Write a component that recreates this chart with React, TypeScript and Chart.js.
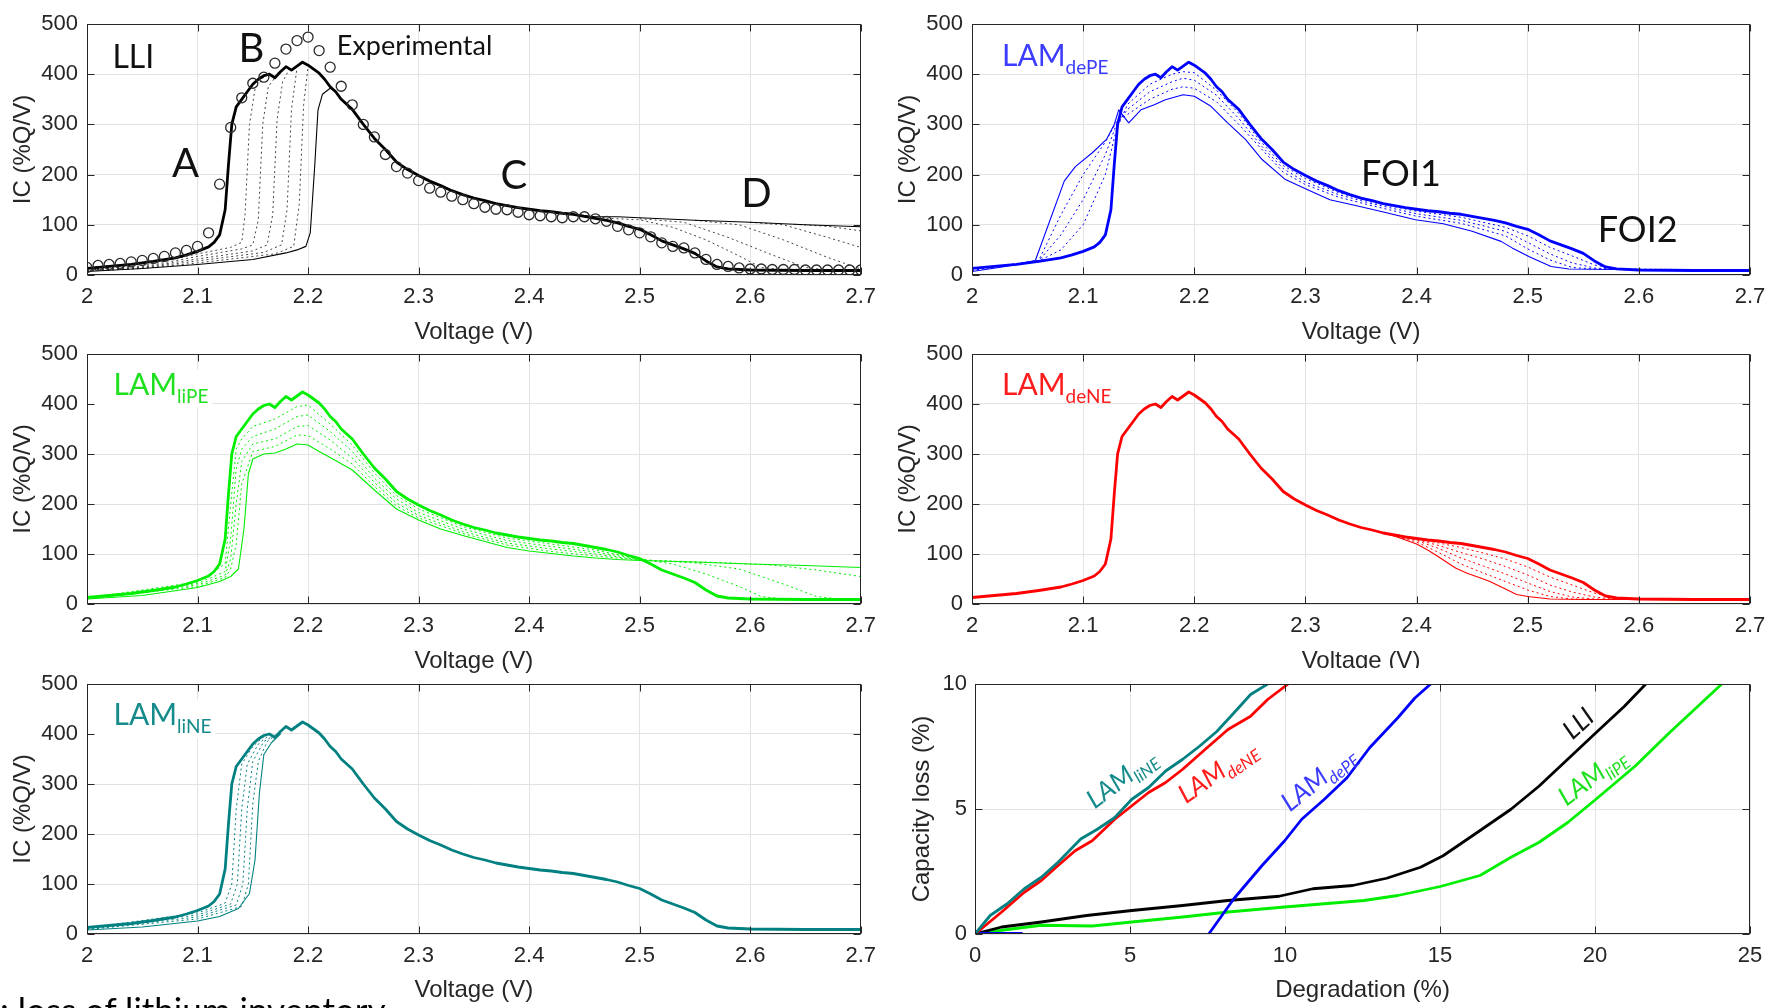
import React, { useEffect, useRef } from 'react';
import { Chart, registerables } from 'chart.js';

Chart.register(...registerables);

// ---------------- tick values & labels ----------------
const voltTicks = [2, 2.1, 2.2, 2.3, 2.4, 2.5, 2.6, 2.7];
const voltTickLabels = ['2', '2.1', '2.2', '2.3', '2.4', '2.5', '2.6', '2.7'];
const icTicks = [0, 100, 200, 300, 400, 500];
const icTickLabels = ['0', '100', '200', '300', '400', '500'];
const degTicks = [0, 5, 10, 15, 20, 25];
const degTickLabels = ['0', '5', '10', '15', '20', '25'];
const lossTicks = [0, 5, 10];
const lossTickLabels = ['0', '5', '10'];

// ---------------- pristine (reference) IC curve ----------------
const mainV = [2.00, 2.02, 2.04, 2.06, 2.08, 2.09, 2.10, 2.11, 2.115, 2.12, 2.125, 2.128, 2.131, 2.135, 2.14, 2.145, 2.15, 2.155, 2.16, 2.165, 2.17, 2.175, 2.18, 2.185, 2.19, 2.195, 2.20, 2.205, 2.21, 2.215, 2.22, 2.225, 2.23, 2.24, 2.25, 2.26, 2.27, 2.28, 2.29, 2.30, 2.31, 2.32, 2.33, 2.34, 2.35, 2.36, 2.37, 2.38, 2.39, 2.40, 2.41, 2.42, 2.43, 2.44, 2.45, 2.46, 2.47, 2.48, 2.49, 2.50, 2.51, 2.52, 2.53, 2.54, 2.55, 2.56, 2.57, 2.58, 2.60, 2.65, 2.70];
const mainIC = [13, 17, 21, 27, 34, 40, 47, 56, 65, 80, 130, 220, 300, 335, 350, 365, 380, 390, 397, 400, 393, 405, 415, 408, 416, 424, 418, 410, 402, 390, 375, 365, 350, 330, 300, 272, 250, 225, 210, 198, 187, 178, 168, 160, 153, 148, 142, 138, 134, 131, 128, 126, 123, 121, 117, 113, 109, 104, 97, 91, 80, 68, 60, 52, 43, 28, 16, 12, 10, 9, 9];

// ---------------- LLI panel ----------------
const expV = [2.00, 2.01, 2.02, 2.03, 2.04, 2.05, 2.06, 2.07, 2.08, 2.09, 2.10, 2.11, 2.12, 2.13, 2.14, 2.15, 2.16, 2.17, 2.18, 2.19, 2.20, 2.21, 2.22, 2.23, 2.24, 2.25, 2.26, 2.27, 2.28, 2.29, 2.30, 2.31, 2.32, 2.33, 2.34, 2.35, 2.36, 2.37, 2.38, 2.39, 2.40, 2.41, 2.42, 2.43, 2.44, 2.45, 2.46, 2.47, 2.48, 2.49, 2.50, 2.51, 2.52, 2.53, 2.54, 2.55, 2.56, 2.57, 2.58, 2.59, 2.60, 2.61, 2.62, 2.63, 2.64, 2.65, 2.66, 2.67, 2.68, 2.69, 2.70];
const expIC = [15, 19, 21, 23, 26, 29, 33, 37, 44, 49, 57, 84, 181, 294, 353, 382, 394, 422, 450, 467, 474, 447, 414, 376, 339, 300, 275, 240, 216, 203, 188, 173, 165, 157, 150, 142, 135, 131, 130, 125, 120, 118, 116, 114, 116, 116, 112, 107, 97, 90, 84, 76, 64, 57, 54, 44, 31, 21, 17, 14, 12, 12, 11, 11, 11, 10, 10, 10, 10, 10, 10];

const lliFinV = [2.00, 2.05, 2.10, 2.15, 2.18, 2.19, 2.198, 2.202, 2.206, 2.209, 2.213, 2.22, 2.225, 2.23, 2.24, 2.25, 2.26, 2.27, 2.28, 2.29, 2.30, 2.32, 2.34, 2.36, 2.38, 2.40, 2.42, 2.44, 2.46, 2.48, 2.50, 2.52, 2.55, 2.60, 2.65, 2.70];
const lliFinIC = [7, 13, 21, 31, 44, 50, 57, 84, 216, 329, 360, 372, 365, 350, 330, 300, 272, 250, 225, 210, 198, 178, 160, 148, 138, 131, 126, 121, 116, 116, 114, 112, 109, 105, 100, 96];

const lliR1V = [2.00, 2.05, 2.10, 2.13, 2.14, 2.143, 2.147, 2.152, 2.16];
const lliR1IC = [12, 18, 42, 55, 65, 120, 300, 370, 395];
const lliR2V = [2.00, 2.05, 2.10, 2.14, 2.15, 2.155, 2.159, 2.164, 2.17];
const lliR2IC = [11, 16, 37, 52, 60, 110, 300, 375, 393];
const lliR3V = [2.00, 2.05, 2.10, 2.15, 2.163, 2.168, 2.172, 2.177, 2.183];
const lliR3IC = [10, 15, 32, 48, 60, 120, 310, 385, 410];
const lliR4V = [2.00, 2.05, 2.10, 2.16, 2.176, 2.181, 2.185, 2.19];
const lliR4IC = [9, 14, 28, 45, 60, 130, 330, 413];
const lliR5V = [2.00, 2.05, 2.10, 2.17, 2.187, 2.192, 2.196, 2.20];
const lliR5IC = [8, 13, 24, 42, 57, 140, 340, 415];

const lliT1V = [2.47, 2.50, 2.53, 2.56, 2.59, 2.61, 2.63];
const lliT1IC = [113, 110, 95, 70, 38, 15, 10];
const lliT2V = [2.50, 2.54, 2.58, 2.62, 2.65, 2.67];
const lliT2IC = [112, 105, 75, 40, 15, 10];
const lliT3V = [2.55, 2.59, 2.63, 2.67, 2.70];
const lliT3IC = [109, 100, 70, 35, 12];
const lliT4V = [2.60, 2.63, 2.67, 2.70];
const lliT4IC = [105, 100, 75, 55];
const lliT5V = [2.64, 2.67, 2.70];
const lliT5IC = [101, 97, 88];

// ---------------- LAM dePE panel ----------------
const dePEFinV = [2.00, 2.03, 2.057, 2.083, 2.093, 2.108, 2.121, 2.128, 2.132, 2.141, 2.152, 2.164, 2.174, 2.19, 2.20, 2.215, 2.23, 2.246, 2.261, 2.282, 2.302, 2.322, 2.348, 2.373, 2.399, 2.424, 2.45, 2.476, 2.486, 2.501, 2.521, 2.537, 2.578, 2.65, 2.70];
const dePEFinIC = [7, 17, 29, 187, 216, 243, 270, 300, 329, 303, 329, 339, 349, 359, 356, 336, 303, 270, 230, 190, 170, 150, 137, 124, 110, 102, 87, 67, 54, 37, 17, 12, 11, 10, 10];
const dePEDotV = [2.00, 2.06, 2.08, 2.10, 2.12, 2.13, 2.14, 2.16, 2.18, 2.19, 2.20, 2.22, 2.24, 2.26, 2.28, 2.30, 2.33, 2.36, 2.40, 2.44, 2.48, 2.50, 2.52, 2.54, 2.56, 2.58, 2.70];
const dePED1 = [9, 29, 120, 200, 265, 305, 320, 350, 370, 375, 372, 345, 300, 252, 205, 180, 155, 138, 117, 103, 78, 52, 30, 15, 12, 11, 10];
const dePED2 = [10, 28, 80, 150, 240, 300, 330, 365, 385, 392, 388, 358, 312, 258, 212, 185, 160, 142, 122, 109, 87, 65, 42, 24, 14, 11, 10];
const dePED3 = [11, 28, 50, 100, 200, 290, 340, 380, 400, 405, 403, 368, 322, 265, 218, 192, 164, 145, 127, 115, 95, 78, 55, 38, 20, 12, 10];

// ---------------- LAM liPE panel ----------------
const liPEFinV = [2.00, 2.05, 2.10, 2.12, 2.13, 2.137, 2.142, 2.146, 2.15, 2.16, 2.17, 2.18, 2.19, 2.20, 2.21, 2.22, 2.24, 2.26, 2.28, 2.30, 2.32, 2.34, 2.36, 2.38, 2.40, 2.42, 2.44, 2.46, 2.48, 2.50, 2.55, 2.60, 2.65, 2.70];
const liPEFinIC = [10, 17, 33, 45, 55, 70, 150, 260, 290, 300, 302, 310, 320, 318, 305, 293, 268, 228, 190, 168, 150, 137, 125, 113, 106, 101, 96, 92, 89, 87, 84, 80, 77, 73];
const liPEDotV = [2.00, 2.10, 2.125, 2.13, 2.135, 2.14, 2.15, 2.17, 2.19, 2.20, 2.22, 2.24, 2.26, 2.28, 2.30, 2.34, 2.38, 2.42, 2.46, 2.50];
const liPED1 = [12, 44, 80, 200, 310, 330, 355, 370, 395, 398, 360, 318, 262, 217, 190, 155, 132, 120, 108, 90];
const liPED2 = [11, 41, 65, 130, 270, 310, 335, 350, 375, 378, 345, 305, 252, 210, 183, 150, 127, 115, 104, 89];
const liPED3 = [11, 38, 58, 90, 200, 285, 320, 330, 355, 357, 328, 292, 243, 202, 177, 145, 122, 110, 100, 88];
const liPED4 = [10, 35, 53, 70, 120, 240, 305, 315, 338, 337, 310, 280, 235, 196, 172, 141, 118, 105, 96, 88];
const liPET1V = [2.50, 2.53, 2.56, 2.59, 2.61, 2.63, 2.70];
const liPET1IC = [90, 80, 60, 35, 15, 10, 9];
const liPET2V = [2.50, 2.55, 2.59, 2.63, 2.66, 2.68, 2.70];
const liPET2IC = [89, 82, 70, 40, 15, 10, 9];
const liPET3V = [2.50, 2.57, 2.62, 2.66, 2.70];
const liPET3IC = [88, 83, 78, 68, 55];

// ---------------- LAM deNE panel ----------------
const deNEFinV = [2.36, 2.37, 2.38, 2.39, 2.40, 2.41, 2.42, 2.435, 2.445, 2.465, 2.48, 2.49, 2.50, 2.52, 2.55, 2.70];
const deNEFinIC = [148, 142, 136, 128, 120, 108, 94, 72, 62, 46, 30, 19, 15, 10, 9, 9];
const deNEDotV = [2.37, 2.40, 2.42, 2.44, 2.46, 2.48, 2.50, 2.52, 2.54, 2.56, 2.58];
const deNED1 = [142, 124, 103, 80, 62, 45, 28, 15, 10, 9, 9];
const deNED2 = [142, 127, 111, 92, 76, 60, 42, 25, 14, 10, 9];
const deNED3 = [142, 129, 117, 103, 90, 75, 58, 38, 24, 14, 9];
const deNED4 = [142, 130, 122, 113, 102, 90, 74, 54, 38, 22, 10];

// ---------------- LAM liNE panel ----------------
const liNEFinV = [2.00, 2.05, 2.10, 2.12, 2.137, 2.147, 2.152, 2.156, 2.16, 2.167, 2.175];
const liNEFinIC = [8, 14, 26, 35, 51, 81, 148, 282, 359, 383, 400];
const liNED1V = [2.00, 2.10, 2.125, 2.131, 2.135, 2.14, 2.15, 2.16];
const liNED1IC = [12, 42, 62, 100, 250, 340, 375, 395];
const liNED2V = [2.00, 2.10, 2.13, 2.136, 2.14, 2.145, 2.155, 2.165];
const liNED2IC = [11, 38, 60, 100, 250, 340, 380, 398];
const liNED3V = [2.00, 2.10, 2.135, 2.141, 2.145, 2.15, 2.16, 2.17];
const liNED3IC = [10, 34, 58, 100, 250, 345, 385, 398];
const liNED4V = [2.00, 2.10, 2.14, 2.146, 2.15, 2.155, 2.163, 2.172];
const liNED4IC = [9, 30, 55, 100, 260, 345, 385, 400];

// ---------------- Capacity loss vs degradation ----------------
const lliDeg = [0, 0.86, 2.14, 3.6, 5.06, 6.7, 8.16, 9.81, 10.9, 12.18, 13.28, 14.37, 15.1, 16.2, 17.29, 18.2, 19.12, 20.03, 20.95, 21.64];
const lliLoss = [0, 0.28, 0.48, 0.74, 0.94, 1.14, 1.34, 1.51, 1.81, 1.94, 2.23, 2.67, 3.13, 4.06, 4.99, 5.92, 6.99, 8.05, 9.11, 10];
const liPEDeg = [0, 0.86, 2.14, 3.78, 5.06, 6.7, 8.16, 9.99, 12.55, 13.64, 15.01, 16.29, 17.29, 18.2, 19.12, 20.03, 21.3, 22.4, 23.32, 24.09];
const liPELoss = [0, 0.15, 0.35, 0.32, 0.48, 0.68, 0.88, 1.08, 1.34, 1.54, 1.9, 2.34, 3.07, 3.67, 4.46, 5.39, 6.72, 8.05, 9.11, 10];
const dePEStartDeg = [0, 1.5];
const dePEStartLoss = [0, 0];
const dePEDeg = [7.54, 8.35, 9.26, 9.99, 10.54, 11.27, 12, 12.73, 13.64, 14.19, 14.7];
const dePELoss = [0, 1.41, 2.74, 3.73, 4.59, 5.39, 6.25, 7.45, 8.65, 9.44, 10];
const liNEDeg = [0, 0.49, 1.04, 1.59, 2.14, 2.68, 3.41, 3.96, 4.51, 5.06, 5.6, 6.15, 6.7, 7.25, 7.8, 8.35, 8.89, 9.44];
const liNELoss = [0, 0.74, 1.21, 1.81, 2.27, 2.87, 3.8, 4.2, 4.66, 5.39, 5.86, 6.52, 6.99, 7.52, 8.1, 8.84, 9.58, 10];
const deNEDeg = [0, 0.86, 1.59, 2.14, 2.68, 3.23, 3.78, 4.51, 5.06, 5.6, 6.15, 6.7, 7.43, 8.16, 8.89, 9.44, 10.1];
const deNELoss = [0, 0.88, 1.67, 2.14, 2.74, 3.33, 3.73, 4.59, 5.13, 5.66, 6.06, 6.59, 7.39, 8.18, 8.71, 9.38, 10];

// ---------------- styles ----------------
const FONT_AX = "'Liberation Sans', Arial, Helvetica, sans-serif";
const FONT_TX = "Lato, 'Open Sans', 'Noto Sans', sans-serif";
const AX_COLOR = '#262626';
const GRID = '#e3e3e3';
const THICK = 2.8;
const THIN = 1.1;
const C_BLACK = '#000000';
const C_BLUE = '#0000ff';
const C_GREEN = '#00ee00';
const C_RED = '#ff0000';
const C_TEAL = '#008080';

const pts = (xs: number[], ys: number[]) => xs.map((x, i) => ({ x, y: ys[i] }));
const solid = (xs: number[], ys: number[], color: string, w: number) => ({
  data: pts(xs, ys), showLine: true, borderColor: color, backgroundColor: color, borderWidth: w,
  pointRadius: 0, pointHoverRadius: 0, tension: 0, fill: false,
  borderJoinStyle: 'round', borderCapStyle: 'round',
});
const dotted = (xs: number[], ys: number[], color: string) => ({
  ...solid(xs, ys, color, 1), borderDash: [2, 3], borderCapStyle: 'butt',
});
const circles = (xs: number[], ys: number[]) => ({
  data: pts(xs, ys), showLine: false, pointRadius: 5, pointHoverRadius: 5, pointBorderWidth: 1.3,
  pointBorderColor: '#2a2a2a', pointBackgroundColor: 'rgba(0,0,0,0)', pointStyle: 'circle',
});

type Part = { t: string; s: number; dy?: number };

const lam = (sub: string, big: number, small: number, dy: number): Part[] => [{ t: 'LAM', s: big }, { t: sub, s: small, dy }];

const icAxes = { xMin: 2, xMax: 2.7, xTicks: voltTicks, xLabels: voltTickLabels, yMin: 0, yMax: 500, yTicks: icTicks, yLabels: icTickLabels, xTitle: 'Voltage (V)', yTitle: 'IC (%Q/V)' };

const panels: any[] = [
  {
    left: 0, top: 0, width: 885, height: 347, area: { l: 87, t: 24, r: 865, b: 275 }, yTitleX: 23, xTitleOff: 57, ...icAxes,
    datasets: [
      circles(expV, expIC),
      solid(mainV, mainIC, C_BLACK, THICK),
      solid(lliFinV, lliFinIC, C_BLACK, THIN),
      dotted(lliR1V, lliR1IC, '#444'), dotted(lliR2V, lliR2IC, '#444'), dotted(lliR3V, lliR3IC, '#444'),
      dotted(lliR4V, lliR4IC, '#444'), dotted(lliR5V, lliR5IC, '#444'),
      dotted(lliT1V, lliT1IC, '#444'), dotted(lliT2V, lliT2IC, '#444'), dotted(lliT3V, lliT3IC, '#444'),
      dotted(lliT4V, lliT4IC, '#444'), dotted(lliT5V, lliT5IC, '#444'),
    ],
    anns: [
      { x: 2.023, y: 413, parts: [{ t: 'LLI', s: 32 }], color: '#111' },
      { x: 2.137, y: 425, parts: [{ t: 'B', s: 40 }], color: '#111' },
      { x: 2.077, y: 196, parts: [{ t: 'A', s: 40 }], color: '#111' },
      { x: 2.374, y: 172, parts: [{ t: 'C', s: 40 }], color: '#111' },
      { x: 2.592, y: 136, parts: [{ t: 'D', s: 40 }], color: '#111' },
      { x: 2.226, y: 439, parts: [{ t: 'Experimental', s: 27 }], color: '#111' },
    ],
  },
  {
    left: 885, top: 0, width: 892, height: 347, area: { l: 972, t: 24, r: 1750, b: 275 }, yTitleX: 908, xTitleOff: 57, ...icAxes,
    datasets: [
      solid(mainV, mainIC, C_BLUE, THICK),
      solid(dePEFinV, dePEFinIC, C_BLUE, THIN),
      dotted(dePEDotV, dePED1, C_BLUE), dotted(dePEDotV, dePED2, C_BLUE), dotted(dePEDotV, dePED3, C_BLUE),
    ],
    anns: [
      { x: 2.027, y: 417, parts: lam('dePE', 30, 19, 8), color: '#3c3cff' },
      { x: 2.350, y: 178, parts: [{ t: 'FOI1', s: 36 }], color: '#111' },
      { x: 2.563, y: 66, parts: [{ t: 'FOI2', s: 36 }], color: '#111' },
    ],
  },
  {
    left: 0, top: 330, width: 885, height: 346, area: { l: 87, t: 354, r: 865, b: 604 }, yTitleX: 23, xTitleOff: 57, ...icAxes,
    datasets: [
      solid(mainV, mainIC, C_GREEN, THICK),
      solid(liPEFinV, liPEFinIC, C_GREEN, THIN),
      dotted(liPEDotV, liPED1, C_GREEN), dotted(liPEDotV, liPED2, C_GREEN), dotted(liPEDotV, liPED3, C_GREEN), dotted(liPEDotV, liPED4, C_GREEN),
      dotted(liPET1V, liPET1IC, C_GREEN), dotted(liPET2V, liPET2IC, C_GREEN), dotted(liPET3V, liPET3IC, C_GREEN),
    ],
    anns: [
      { x: 2.024, y: 418, parts: lam('liPE', 30, 19, 8), color: '#1fe01f', bg: true },
    ],
  },
  {
    left: 885, top: 330, width: 892, height: 346, area: { l: 972, t: 354, r: 1750, b: 604 }, yTitleX: 908, xTitleOff: 57, ...icAxes,
    datasets: [
      solid(mainV, mainIC, C_RED, THICK),
      solid(deNEFinV, deNEFinIC, C_RED, THIN),
      dotted(deNEDotV, deNED1, C_RED), dotted(deNEDotV, deNED2, C_RED), dotted(deNEDotV, deNED3, C_RED), dotted(deNEDotV, deNED4, C_RED),
    ],
    anns: [
      { x: 2.027, y: 418, parts: lam('deNE', 30, 19, 8), color: '#ff1c1c' },
    ],
  },
  {
    left: 0, top: 660, width: 885, height: 346, area: { l: 87, t: 684, r: 865, b: 934 }, yTitleX: 23, xTitleOff: 56, ...icAxes,
    datasets: [
      solid(mainV, mainIC, C_TEAL, THICK),
      solid(liNEFinV, liNEFinIC, C_TEAL, THIN),
      dotted(liNED1V, liNED1IC, C_TEAL), dotted(liNED2V, liNED2IC, C_TEAL), dotted(liNED3V, liNED3IC, C_TEAL), dotted(liNED4V, liNED4IC, C_TEAL),
    ],
    anns: [
      { x: 2.024, y: 418, parts: lam('liNE', 30, 19, 8), color: '#168b8b', bg: true },
    ],
  },
  {
    left: 885, top: 660, width: 892, height: 346, area: { l: 975, t: 684, r: 1750, b: 934 }, yTitleX: 922, xTitleOff: 56, whiteFrom: 8,
    xMin: 0, xMax: 25, xTicks: degTicks, xLabels: degTickLabels, yMin: 0, yMax: 10, yTicks: lossTicks, yLabels: lossTickLabels,
    xTitle: 'Degradation (%)', yTitle: 'Capacity loss (%)',
    datasets: [
      solid(liNEDeg, liNELoss, C_TEAL, THICK),
      solid(deNEDeg, deNELoss, C_RED, THICK),
      solid(dePEDeg, dePELoss, C_BLUE, THICK),
      solid(dePEStartDeg, dePEStartLoss, C_BLUE, THICK + 1),
      solid(lliDeg, lliLoss, C_BLACK, THICK),
      solid(liPEDeg, liPELoss, C_GREEN, THICK),
    ],
    anns: [
      { x: 4.71, y: 6.24, parts: lam('liNE', 26, 17, 6), color: '#168b8b', italic: true, rot: -37, center: true },
      { x: 7.81, y: 6.52, parts: lam('deNE', 26, 17, 6), color: '#ff1c1c', italic: true, rot: -35, center: true },
      { x: 11.06, y: 6.24, parts: lam('dePE', 26, 17, 6), color: '#3c3cff', italic: true, rot: -39, center: true },
      { x: 19.45, y: 8.44, parts: [{ t: 'LLI', s: 26 }], color: '#111', italic: true, rot: -42, center: true },
      { x: 19.9, y: 6.32, parts: lam('liPE', 26, 17, 6), color: '#1fe01f', italic: true, rot: -37, center: true },
    ],
  },
];

const makeDeco = (p: any) => ({
  id: 'deco',
  beforeDraw(chart: any) {
    if (p.whiteFrom === undefined) return;
    const { ctx, width, height } = chart;
    ctx.save();
    ctx.fillStyle = '#ffffff';
    ctx.fillRect(0, p.whiteFrom, width, height - p.whiteFrom);
    ctx.restore();
  },
  afterDraw(chart: any) {
    const { ctx, chartArea: a, scales } = chart;
    const xs = scales.x;
    const ys = scales.y;
    ctx.save();
    // label background boxes
    for (const an of p.anns) {
      if (!an.bg) continue;
      const px = xs.getPixelForValue(an.x);
      const py = ys.getPixelForValue(an.y);
      let w = 0;
      for (const pt of an.parts) { ctx.font = `${pt.s}px ${FONT_TX}`; w += ctx.measureText(pt.t).width; }
      const s0 = an.parts[0].s;
      ctx.fillStyle = '#ffffff';
      ctx.fillRect(a.left + 1, py - s0 * 0.85, px + w + 4 - (a.left + 1), s0 * 1.3);
    }
    // box
    const L = Math.round(a.left) + 0.5;
    const R = Math.round(a.right) - 0.5;
    const T = Math.round(a.top) + 0.5;
    const B = Math.round(a.bottom) - 0.5;
    ctx.strokeStyle = AX_COLOR;
    ctx.lineWidth = 1;
    ctx.strokeRect(L, T, R - L, B - T);
    const tl = 7;
    ctx.beginPath();
    for (const v of p.xTicks) {
      const px = Math.round(xs.getPixelForValue(v)) + 0.5;
      ctx.moveTo(px, B); ctx.lineTo(px, B - tl);
      ctx.moveTo(px, T); ctx.lineTo(px, T + tl);
    }
    for (const v of p.yTicks) {
      const py = Math.round(ys.getPixelForValue(v)) + 0.5;
      ctx.moveTo(L, py); ctx.lineTo(L + tl, py);
      ctx.moveTo(R, py); ctx.lineTo(R - tl, py);
    }
    ctx.stroke();
    // annotations
    for (const an of p.anns) {
      const px = xs.getPixelForValue(an.x);
      const py = ys.getPixelForValue(an.y);
      const style = an.italic ? 'italic ' : '';
      const widths = an.parts.map((pt: Part) => { ctx.font = `${style}${pt.s}px ${FONT_TX}`; return ctx.measureText(pt.t).width; });
      const total = widths.reduce((s: number, v: number) => s + v, 0);
      ctx.save();
      ctx.translate(px, py);
      if (an.rot) ctx.rotate((an.rot * Math.PI) / 180);
      let x0 = an.center ? -total / 2 : 0;
      const baseY = an.center ? an.parts[0].s * 0.36 : 0;
      ctx.fillStyle = an.color;
      ctx.textAlign = 'left';
      ctx.textBaseline = 'alphabetic';
      an.parts.forEach((pt: Part, i: number) => {
        ctx.font = `${style}${pt.s}px ${FONT_TX}`;
        ctx.fillText(pt.t, x0, baseY + (pt.dy || 0));
        x0 += widths[i];
      });
      ctx.restore();
    }
    ctx.restore();
  },
});

const buildConfig = (p: any) => {
  const bottom = p.top + p.height;
  const xH = bottom - p.area.b;
  const yW = p.area.l - p.left;
  const lh = 24 * 1.2;
  const xTitlePadBottom = bottom - (p.area.b + p.xTitleOff) - lh / 2;
  const yTitlePadTop = p.yTitleX - p.left - lh / 2;
  const tickFont = { family: FONT_AX, size: 22 };
  const titleFont = { family: FONT_AX, size: 24, lineHeight: 1.2 };
  return {
    type: 'scatter',
    data: { datasets: p.datasets },
    options: {
      animation: false,
      responsive: false,
      maintainAspectRatio: false,
      devicePixelRatio: 1,
      events: [],
      layout: { padding: { left: 0, top: p.area.t - p.top, right: p.left + p.width - p.area.r, bottom: 0 } },
      plugins: { legend: { display: false }, tooltip: { enabled: false }, title: { display: false } },
      scales: {
        x: {
          type: 'linear', position: 'bottom', min: p.xMin, max: p.xMax,
          afterBuildTicks: (s: any) => { s.ticks = p.xTicks.map((v: number) => ({ value: v })); },
          afterFit: (s: any) => { s.height = xH; },
          ticks: { autoSkip: false, maxRotation: 0, minRotation: 0, padding: 9, color: AX_COLOR, font: tickFont, callback: (_v: any, i: number) => p.xLabels[i] },
          grid: { color: GRID, lineWidth: 1, drawTicks: false },
          border: { display: false },
          title: { display: true, text: p.xTitle, color: AX_COLOR, font: titleFont, padding: { top: 0, bottom: xTitlePadBottom } },
        },
        y: {
          type: 'linear', position: 'left', min: p.yMin, max: p.yMax,
          afterBuildTicks: (s: any) => { s.ticks = p.yTicks.map((v: number) => ({ value: v })); },
          afterFit: (s: any) => { s.width = yW; },
          ticks: { autoSkip: false, padding: p.whiteFrom !== undefined ? 8 : 9, color: AX_COLOR, font: tickFont, callback: (_v: any, i: number) => p.yLabels[i] },
          grid: { color: GRID, lineWidth: 1, drawTicks: false },
          border: { display: false },
          title: { display: true, text: p.yTitle, color: AX_COLOR, font: titleFont, padding: { top: yTitlePadTop, bottom: 0 } },
        },
      },
    },
    plugins: [makeDeco(p)],
  };
};

function PanelChart({ p }: { p: any }) {
  const ref = useRef<HTMLCanvasElement | null>(null);
  useEffect(() => {
    if (!ref.current) return;
    const chart = new Chart(ref.current, buildConfig(p) as any);
    return () => chart.destroy();
  }, [p]);
  return (
    <canvas
      ref={ref}
      width={p.width}
      height={p.height}
      style={{ position: 'absolute', left: p.left, top: p.top, width: p.width, height: p.height }}
    />
  );
}

export default function App() {
  return (
    <div style={{ position: 'fixed', left: 0, top: 0, width: 1777, height: 1008, overflow: 'hidden', background: '#ffffff' }}>
      {panels.map((p, i) => (
        <PanelChart key={i} p={p} />
      ))}
      <div style={{ position: 'absolute', left: 0, top: 992, fontFamily: FONT_TX, fontSize: 35, lineHeight: '35px', color: '#000', whiteSpace: 'nowrap' }}>
        : loss of lithium inventory
      </div>
    </div>
  );
}
